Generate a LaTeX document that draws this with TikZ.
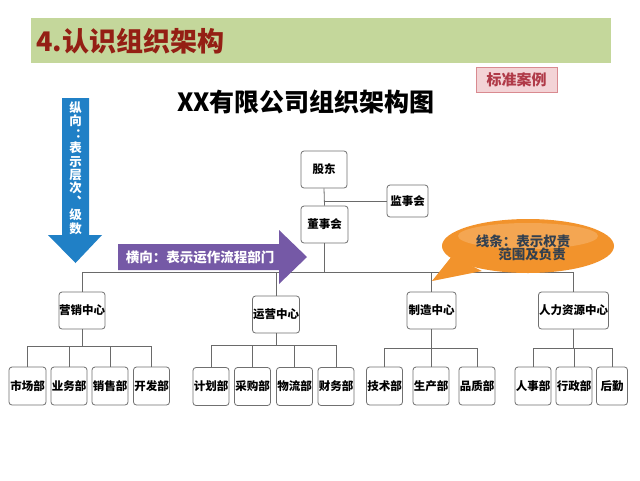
\documentclass[tikz,border=0pt]{standalone}
\usepackage{fontspec}
\setmainfont{Noto Sans CJK SC}
\definecolor{barg}{HTML}{C4D79B}
\definecolor{titred}{HTML}{941F14}
\definecolor{pinkf}{HTML}{F3D3D6}
\definecolor{pinkd}{HTML}{D98A90}
\definecolor{pinkt}{HTML}{B03A48}
\definecolor{arrblue}{HTML}{2080C6}
\definecolor{arrpurp}{HTML}{7559A6}
\definecolor{callor}{HTML}{F2932C}
\definecolor{calltxt}{HTML}{33404F}
\definecolor{boxline}{HTML}{707070}
\definecolor{connc}{HTML}{6A6A6A}
\tikzset{
  orgbox/.style={draw=boxline, line width=0.8pt, rounded corners=3pt, fill=white,
    inner sep=0pt, minimum height=37pt, font=\fontsize{11.5}{13}\selectfont\bfseries},
  subbox/.style={orgbox, minimum height=38pt, minimum width=35pt},
  conn/.style={draw=connc, line width=0.8pt}
}
\begin{document}
\begin{tikzpicture}[x=1pt,y=-1pt]
\useasboundingbox (0,0) rectangle (640,480);
\fill[white] (0,0) rectangle (640,480);
% header bar
\fill[barg] (31,18) rectangle (611,63);
\node[anchor=west, text=titred, font=\fontsize{27}{30}\selectfont\bfseries, inner sep=0pt] (ht) at (36,41) {4.认识组织架构};
% standard case tag
\node[draw=pinkd, fill=pinkf, line width=0.8pt, minimum width=81pt, minimum height=25pt, inner sep=0pt,
  text=pinkt, font=\fontsize{15}{17}\selectfont\bfseries] (tag) at (516.5,79.5) {标准案例};
% title
\node[font=\fontsize{25}{28}\selectfont\bfseries, inner sep=0pt] (title) at (306,102) {XX有限公司组织架构图};
% blue vertical arrow
\fill[arrblue] (62,98) -- (89,98) -- (89,235) -- (102,235) -- (75.5,263) -- (48,235) -- (62,235) -- cycle;
\node[text=white, align=center, inner sep=0pt, font=\fontsize{12.5}{13.4}\selectfont\bfseries] (vtxt) at (75.5,168)
  {纵\\向\\︓\\表\\示\\层\\次\\︑\\级\\数};
% org lines
\coordinate (mainy) at (0,272);
\coordinate (h1) at (0,346);
\coordinate (h2) at (0,345);
\coordinate (h3) at (0,348);
\coordinate (h4) at (0,348);
% boxes
\node[orgbox, minimum width=46pt] (gd) at (324,169.5) {股东};
\node[orgbox, minimum width=47pt] (dsh) at (324.5,224.5) {董事会};
\node[orgbox, minimum width=41pt, minimum height=32pt] (jsh) at (407.5,201) {监事会};
\node[orgbox, minimum width=46pt] (yx) at (82,310.5) {营销中心};
\node[orgbox, minimum width=47pt] (yy) at (276,314.5) {运营中心};
\node[orgbox, minimum width=49pt] (zz) at (431.5,310.5) {制造中心};
\node[orgbox, minimum width=70pt] (rl) at (573.5,310.5) {人力资源中心};
% children
\node[subbox, minimum width=37pt] (a1) at (27.5,386) {市场部};
\node[subbox, minimum width=36pt] (a2) at (69,386) {业务部};
\node[subbox, minimum width=36pt] (a3) at (110,386) {销售部};
\node[subbox, minimum width=36pt] (a4) at (151.5,386) {开发部};
\node[subbox, minimum width=36pt] (b1) at (211,386.5) {计划部};
\node[subbox, minimum width=36pt] (b2) at (252.5,386.5) {采购部};
\node[subbox, minimum width=36pt] (b3) at (294.5,386.5) {物流部};
\node[subbox, minimum width=36pt] (b4) at (336,386.5) {财务部};
\node[subbox, minimum width=36pt] (c1) at (384.5,386) {技术部};
\node[subbox, minimum width=36pt] (c2) at (431,386) {生产部};
\node[subbox, minimum width=36pt] (c3) at (477,386) {品质部};
\node[subbox, minimum width=36pt] (d1) at (533,386) {人事部};
\node[subbox, minimum width=36pt] (d2) at (574,386) {行政部};
\node[subbox, minimum width=31pt] (d3) at (612,386) {后勤};
% connectors top
\draw[conn] (gd.south) -- (dsh.north);
\draw[conn] (gd.south |- jsh.west) -- (jsh.west);
\draw[conn] (dsh.south) -- (dsh.south |- mainy);
\draw[conn] (yx.north |- mainy) -- (rl.north |- mainy);
\foreach \n in {yx,yy,zz,rl} \draw[conn] (\n.north) -- (\n.north |- mainy);
% group lines
\draw[conn] (yx.south) -- (yx.south |- h1);
\draw[conn] (a1.north |- h1) -- (a4.north |- h1);
\foreach \n in {a1,a2,a3,a4} \draw[conn] (\n.north) -- (\n.north |- h1);
\draw[conn] (yy.south) -- (yy.south |- h2);
\draw[conn] (b1.north |- h2) -- (b4.north |- h2);
\foreach \n in {b1,b2,b3,b4} \draw[conn] (\n.north) -- (\n.north |- h2);
\draw[conn] (zz.south) -- (zz.south |- h3);
\draw[conn] (c1.north |- h3) -- (c3.north |- h3);
\foreach \n in {c1,c2,c3} \draw[conn] (\n.north) -- (\n.north |- h3);
\draw[conn] (rl.south) -- (rl.south |- h4);
\draw[conn] (d1.north |- h4) -- (d3.north |- h4);
\foreach \n in {d1,d2,d3} \draw[conn] (\n.north) -- (\n.north |- h4);
% purple arrow
\fill[arrpurp] (118,244) -- (279,244) -- (279,230) -- (307,257) -- (279,284) -- (279,270) -- (118,270) -- cycle;
\node[text=white, inner sep=0pt, font=\fontsize{13.5}{15}\selectfont\bfseries] (htxt) at (200,257) {横向：表示运作流程部门};
% callout
\fill[callor] (452,256) -- (432,281) -- (482,271) -- cycle;
\fill[callor] (528,246) ellipse [x radius=86, y radius=27];
\fill[white, opacity=0.18] (528,236) ellipse [x radius=70, y radius=13];
\node[text=calltxt, inner sep=0pt, font=\fontsize{13.5}{15}\selectfont\bfseries] (ct1) at (523,241) {线条：表示权责};
\node[text=calltxt, inner sep=0pt, font=\fontsize{13.5}{15}\selectfont\bfseries] (ct2) at (532,254.5) {范围及负责};
\end{tikzpicture}
\end{document}
